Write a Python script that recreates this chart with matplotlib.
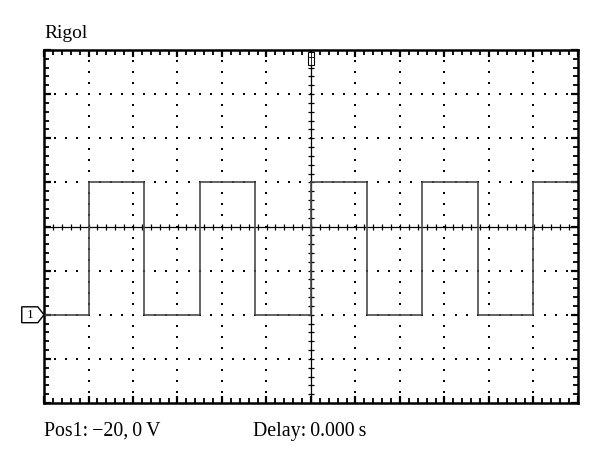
import matplotlib
matplotlib.use("Agg")
import matplotlib.pyplot as plt
import numpy as np
from matplotlib.patches import Polygon, Rectangle

# ---- data (in screen divisions) ----
sig_time_div = [-6, -5, -3.75, -2.5, -1.25, 0, 1.25, 2.5, 3.75, 5, 5.95]
sig_level_div = [-2, 1, -2, 1, -2, 1, -2, 1, -2, 1, 1]
ch1_ground_div = -2
title_text = "Rigol"
pos_text = "Pos1:\u2009\u221220,\u20090\u2009V"
delay_text = "Delay:\u20090.000\u2009s"

n_hdiv, n_vdiv = 12, 8
h_minor_per_div, v_minor_per_div = 5, 5

serif = ["Liberation Serif", "DejaVu Serif"]

fig = plt.figure(figsize=(6, 4.62), dpi=100)
ax = fig.add_axes([44/600, 1-403/462, 534/600, 353/462])
ax.set_xlim(-n_hdiv/2, n_hdiv/2)
ax.set_ylim(-n_vdiv/2, n_vdiv/2)

for s in ax.spines.values():
    s.set_linewidth(1.8)
    s.set_color("black")

ax.set_xticks(np.arange(-6, 7, 1))
ax.set_yticks(np.arange(-4, 5, 1))
ax.set_xticks(np.arange(-6, 6.001, 1/h_minor_per_div), minor=True)
ax.set_yticks(np.arange(-4, 4.001, 1/v_minor_per_div), minor=True)
ax.tick_params(which="both", direction="in", top=True, right=True,
               labelbottom=False, labelleft=False, color="black")
ax.tick_params(which="major", length=5, width=1.6)
ax.tick_params(which="minor", length=3.5, width=1.3)

# dotted grid
dot_kw = dict(linestyle="none", marker="s", markersize=1.7, color="black", markeredgewidth=0)
for gx in range(-5, 6):
    if gx == 0:
        continue
    yy = np.arange(-4, 4.001, 0.25)
    ax.plot(np.full_like(yy, gx), yy, **dot_kw)
for gy in range(-3, 4):
    if gy == 0:
        continue
    xx = np.arange(-6, 6.001, 0.25)
    ax.plot(xx, np.full_like(xx, gy), **dot_kw)

# center axes with ticks
ax.axhline(0, color="black", lw=0.9)
ax.axvline(0, color="black", lw=0.9)
cx = np.arange(-6, 6.001, 1/h_minor_per_div)
ax.plot(cx, np.zeros_like(cx), linestyle="none", marker="|", markersize=5, color="black", markeredgewidth=0.9)
cy = np.arange(-4, 4.001, 1/v_minor_per_div)
ax.plot(np.zeros_like(cy), cy, linestyle="none", marker="_", markersize=5, color="black", markeredgewidth=0.9)

# signal
ax.plot(sig_time_div, sig_level_div, drawstyle="steps-post", color="#4a4a4a", lw=1.2, zorder=5)

# trigger marker at top
ax.add_patch(Rectangle((-0.07, 3.66), 0.14, 0.3, facecolor="white", edgecolor="black",
                       lw=0.8, zorder=6, clip_on=False))
ax.plot([0, 0], [3.66, 3.96], color="black", lw=0.6, zorder=7)
ax.plot([-0.07, 0.07], [3.84, 3.84], color="black", lw=0.6, zorder=7)

# channel 1 marker
g = ch1_ground_div
poly = Polygon([(-6.5, g+0.18), (-6.14, g+0.18), (-6.0, g), (-6.14, g-0.18), (-6.5, g-0.18)],
               closed=True, facecolor="white", edgecolor="black", lw=1.0, clip_on=False, zorder=6)
ax.add_patch(poly)
ax.text(-6.31, g, "1", family=serif, fontsize=9.5, ha="center", va="center", clip_on=False, zorder=7)

fig.text(44/600, 1-38/462, title_text, family=serif, fontsize=14, ha="left", va="baseline")
fig.text(44/600, 1-436/462, pos_text, family=serif, fontsize=14.3, ha="left", va="baseline")
fig.text(253/600, 1-436/462, delay_text, family=serif, fontsize=14.3, ha="left", va="baseline")

fig.savefig("out.png", dpi=100)
